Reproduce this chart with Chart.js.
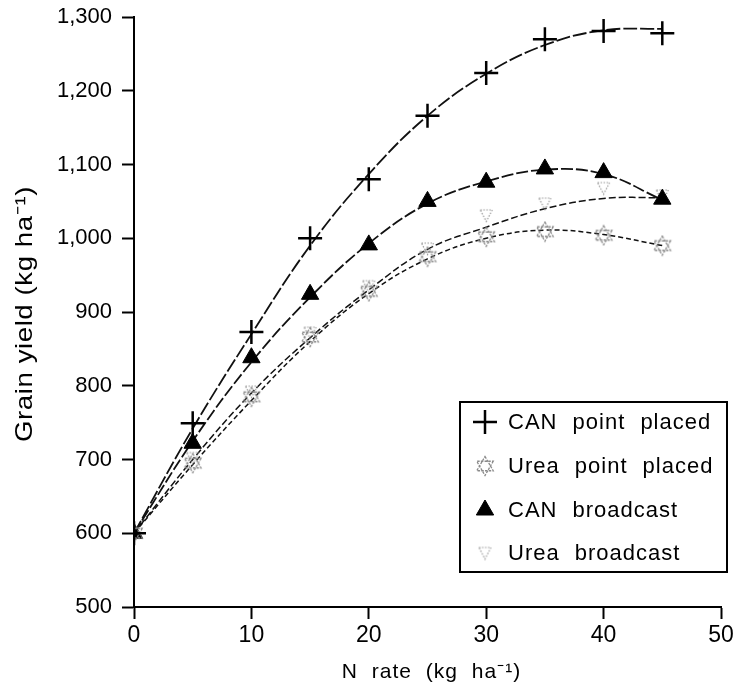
<!DOCTYPE html>
<html>
<head>
<meta charset="utf-8">
<script src="https://cdn.jsdelivr.net/npm/chart.js@4.4.1/dist/chart.umd.min.js"></script>
<style>
  html, body { margin: 0; padding: 0; background: #fff; }
  #wrap { width: 738px; height: 692px; }
</style>
</head>
<body>
<div id="wrap"><canvas id="chart" width="738" height="692"></canvas></div>
<script>
// N rate (kg/ha)
const nRates = [0, 5, 10, 15, 20, 25, 30, 35, 40, 45];

const canPointPlaced = [600, 749, 873, 1000, 1080, 1166, 1224, 1270, 1281, 1278];
const ureaPointPlaced = [600, 695, 785, 866, 928, 975, 1002, 1009, 1004, 990];
const canBroadcast = [600, 722, 838, 924, 991, 1050, 1076, 1094, 1089, 1053];
const ureaBroadcast = [600, 702, 792, 872, 935, 986, 1031, 1047, 1068, 1058];

// fitted response curves, read at the same N rates
const canPointFit = [600, 742, 870, 990, 1087, 1166, 1223, 1262, 1282, 1284];
const ureaPointFit = [600, 693, 780, 860, 925, 972, 1000, 1011, 1005, 990];
const canBroadFit = [600, 725, 832, 920, 993, 1047, 1077, 1093, 1087, 1052];
const ureaBroadFit = [600, 700, 790, 865, 930, 985, 1015, 1040, 1054, 1055];

const yTicks = [500, 600, 700, 800, 900, 1000, 1100, 1200, 1300];
const xTicks = [0, 10, 20, 30, 40, 50];

const legendLabels = ["CAN point placed", "Urea point placed", "CAN broadcast", "Urea broadcast"];
const xTitle = "N rate (kg ha\u207B\u00B9)";
const yTitle = "Grain yield (kg ha\u207B\u00B9)";

const FONT = "'Liberation Sans', Arial, sans-serif";

function toPoints(ys) {
    return nRates.map((x, i) => ({ x: x, y: ys[i] }));
}

// hexagram marker for urea point placed
function makeHexagram(size) {
    const c = document.createElement("canvas");
    c.width = size; c.height = size;
    const g = c.getContext("2d");
    const r = size / 2 - 1.5;
    const cx = size / 2, cy = size / 2;
    g.strokeStyle = "#8a8a8a";
    g.lineWidth = 1.3;
    g.setLineDash([2.5, 1.2]);
    for (let t = 0; t < 2; t++) {
        g.beginPath();
        for (let k = 0; k < 3; k++) {
            const a = -Math.PI / 2 + t * Math.PI / 3 + k * 2 * Math.PI / 3;
            const px = cx + r * Math.cos(a), py = cy + r * Math.sin(a);
            if (k === 0) g.moveTo(px, py); else g.lineTo(px, py);
        }
        g.closePath();
        g.stroke();
    }
    return c;
}

// open down-pointing triangle for urea broadcast
function makeDownTriangle(size) {
    const c = document.createElement("canvas");
    c.width = size; c.height = size;
    const g = c.getContext("2d");
    g.strokeStyle = "#9a9a9a";
    g.lineWidth = 1.2;
    g.setLineDash([1.5, 1.5]);
    g.beginPath();
    g.moveTo(1.5, 2);
    g.lineTo(size - 1.5, 2);
    g.lineTo(size / 2, size - 1.5);
    g.closePath();
    g.stroke();
    return c;
}

const hexImg = makeHexagram(22);
const downTriImg = makeDownTriangle(15);

function markerSet(label, ys, style) {
    return Object.assign({
        label: label,
        data: toPoints(ys),
        showLine: false,
        borderColor: "#000",
        backgroundColor: "#000",
        order: 0
    }, style);
}

function curveSet(ys, dash, width) {
    return {
        label: "",
        data: toPoints(ys),
        showLine: true,
        tension: 0.4,
        pointRadius: 0,
        pointHoverRadius: 0,
        borderColor: "#111",
        borderWidth: width,
        borderDash: dash,
        fill: false,
        order: 1
    };
}

// boxed legend inside the plot + axis titles (need word spacing)
const extras = {
    id: "extras",
    afterDraw(chart) {
        const ctx = chart.ctx;
        const area = chart.chartArea;

        ctx.save();
        ctx.fillStyle = "#000";
        ctx.textAlign = "center";
        ctx.textBaseline = "middle";

        // x title
        ctx.font = "21px " + FONT;
        ctx.letterSpacing = "1px";
        ctx.wordSpacing = "7px";
        ctx.fillText(xTitle, (area.left + area.right) / 2 + 4, 672);

        // y title, a bit stretched like the scan
        ctx.save();
        ctx.translate(25, (area.top + area.bottom) / 2 + 2);
        ctx.rotate(-Math.PI / 2);
        ctx.scale(1.15, 1);
        ctx.font = "24px " + FONT;
        ctx.letterSpacing = "0.5px";
        ctx.wordSpacing = "0px";
        ctx.fillText(yTitle, 0, 0);
        ctx.restore();

        // legend box
        const boxL = area.right - 261, boxT = 402;
        const boxW = 267, boxH = 170;
        ctx.fillStyle = "#fff";
        ctx.fillRect(boxL, boxT, boxW, boxH);
        ctx.strokeStyle = "#000";
        ctx.lineWidth = 2;
        ctx.strokeRect(boxL, boxT, boxW, boxH);

        const rows = [20, 64, 108, 151];
        const sets = chart.data.datasets.filter(d => d.showLine === false);
        ctx.font = "22px " + FONT;
        ctx.letterSpacing = "1px";
        ctx.wordSpacing = "8px";
        ctx.textAlign = "left";
        sets.forEach((ds, i) => {
            const y = boxT + rows[i];
            ctx.strokeStyle = ds.borderColor;
            ctx.fillStyle = ds.backgroundColor;
            ctx.lineWidth = ds.borderWidth;
            Chart.helpers.drawPoint(ctx, {
                pointStyle: ds.pointStyle,
                rotation: 0,
                radius: ds.pointRadius,
                borderWidth: ds.borderWidth
            }, boxL + 25, y);
            ctx.fillStyle = "#000";
            ctx.fillText(legendLabels[i], boxL + 48, y + 1);
        });
        ctx.restore();
    }
};

new Chart(document.getElementById("chart"), {
    type: "scatter",
    data: {
        datasets: [
            markerSet(legendLabels[0], canPointPlaced, {
                pointStyle: "cross", pointRadius: 12, borderWidth: 2.5
            }),
            markerSet(legendLabels[1], ureaPointPlaced, {
                pointStyle: hexImg, pointRadius: 11, borderWidth: 1
            }),
            markerSet(legendLabels[2], canBroadcast, {
                pointStyle: "triangle", pointRadius: 10, borderWidth: 1
            }),
            markerSet(legendLabels[3], ureaBroadcast, {
                pointStyle: downTriImg, pointRadius: 7, borderWidth: 1
            }),
            curveSet(canPointFit, [14, 3], 1.8),
            curveSet(ureaPointFit, [5, 3], 1.5),
            curveSet(canBroadFit, [12, 3], 1.8),
            curveSet(ureaBroadFit, [7, 3], 1.5)
        ]
    },
    options: {
        responsive: false,
        animation: false,
        layout: { padding: { left: 0, top: 17, right: 17, bottom: 0 } },
        plugins: {
            legend: { display: false },
            tooltip: { enabled: false }
        },
        scales: {
            x: {
                type: "linear",
                min: 0,
                max: 50,
                afterBuildTicks(scale) {
                    scale.ticks = xTicks.map(v => ({ value: v }));
                },
                afterFit(scale) { scale.height = 85; },
                grid: {
                    display: true,
                    drawOnChartArea: false,
                    drawTicks: true,
                    tickLength: 12,
                    tickWidth: 2,
                    tickColor: "#000"
                },
                border: { display: true, color: "#000", width: 2 },
                ticks: {
                    color: "#000",
                    padding: 3,
                    font: { family: FONT, size: 23 }
                },
                title: { display: false }
            },
            y: {
                type: "linear",
                min: 500,
                max: 1300,
                afterBuildTicks(scale) {
                    scale.ticks = yTicks.map(v => ({ value: v }));
                },
                afterFit(scale) { scale.width = 134; },
                grid: {
                    display: true,
                    drawOnChartArea: false,
                    drawTicks: true,
                    tickLength: 12,
                    tickWidth: 2,
                    tickColor: "#000"
                },
                border: { display: true, color: "#000", width: 2 },
                ticks: {
                    color: "#000",
                    padding: 10,
                    font: { family: FONT, size: 22, lineHeight: 0.6 },
                    callback: v => v.toLocaleString("en-US")
                },
                title: { display: false }
            }
        }
    },
    plugins: [extras]
});
</script>
</body>
</html>
